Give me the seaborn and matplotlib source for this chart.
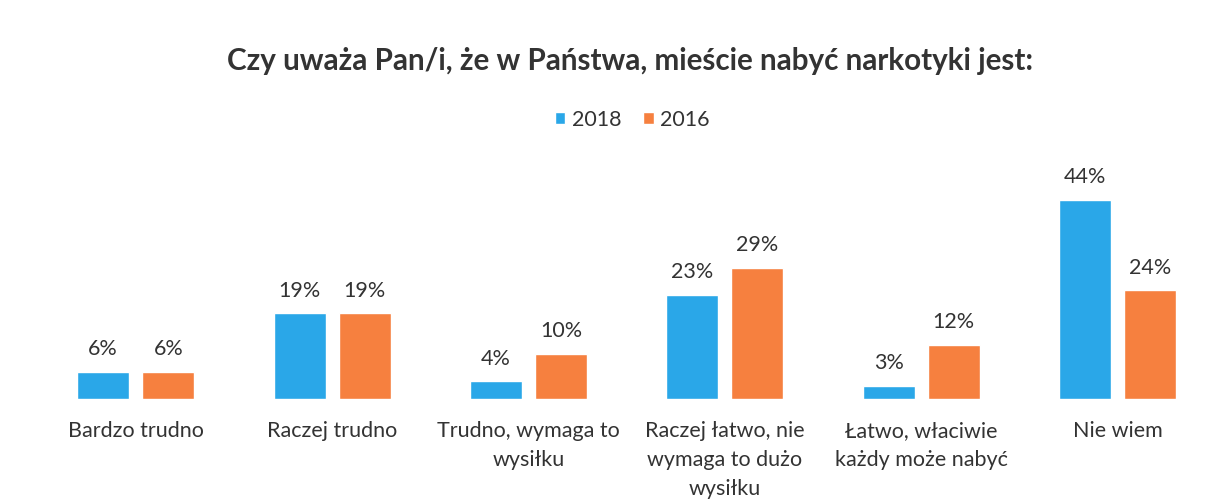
import matplotlib
matplotlib.use("Agg")
import matplotlib.pyplot as plt
import seaborn as sns
import pandas as pd

categories = ["Bardzo trudno", "Raczej trudno", "Trudno, wymaga to\nwysiłku",
              "Raczej łatwo, nie\nwymaga to dużo\nwysiłku",
              "Łatwo, właciwie\nkażdy może nabyć", "Nie wiem"]
years = ["2018", "2016"]
values_2018 = [6, 19, 4, 23, 3, 44]
values_2016 = [6, 19, 10, 29, 12, 24]
title = "Czy uważa Pan/i, że w Państwa, mieście nabyć narkotyki jest:"

df = pd.DataFrame({
    "cat": categories * 2,
    "year": [years[0]] * len(categories) + [years[1]] * len(categories),
    "val": values_2018 + values_2016,
})

sns.set_theme(style="white")
plt.rcParams['font.family'] = ['Lato', 'DejaVu Sans']

colors = {"2018": "#2AA7E8", "2016": "#F6803F"}

fig = plt.figure(figsize=(12.3, 4.99), dpi=100)
ax = fig.add_axes([0.0305, 0.2, 0.958, 0.45])
sns.barplot(data=df, x="cat", y="val", hue="year", hue_order=years,
            palette=colors, width=0.663, gap=0.2, ax=ax, legend=True,
            saturation=1)
ax.set_xlim(-0.5, 5.5)
ax.set_ylim(0, 44 * 225 / 200)
for c in ax.containers:
    ax.bar_label(c, labels=[f"{int(v)}%" for v in c.datavalues],
                 padding=9, fontsize=15.5, color="#333333")
for s in ax.spines.values():
    s.set_visible(False)
ax.set_yticks([])
ax.set_xlabel("")
ax.set_ylabel("")
ax.tick_params(axis="x", length=0, pad=16, labelsize=15.5, labelcolor="#333333")
for lbl in ax.get_xticklabels():
    lbl.set_verticalalignment("top")
    lbl.set_linespacing(1.55)

leg = ax.legend(loc="center", bbox_to_anchor=(0.514, 0.76),
                bbox_transform=fig.transFigure, ncol=2, frameon=False,
                fontsize=15.5, handlelength=0.5, handleheight=0.5,
                handletextpad=0.3, columnspacing=1.0)
for t in leg.get_texts():
    t.set_color("#333333")

fig.text(0.512, 0.877, title, ha="center", va="center", fontsize=21.3,
         fontweight="bold", color="#333333")

fig.savefig("out.png", dpi=100, facecolor="white")
